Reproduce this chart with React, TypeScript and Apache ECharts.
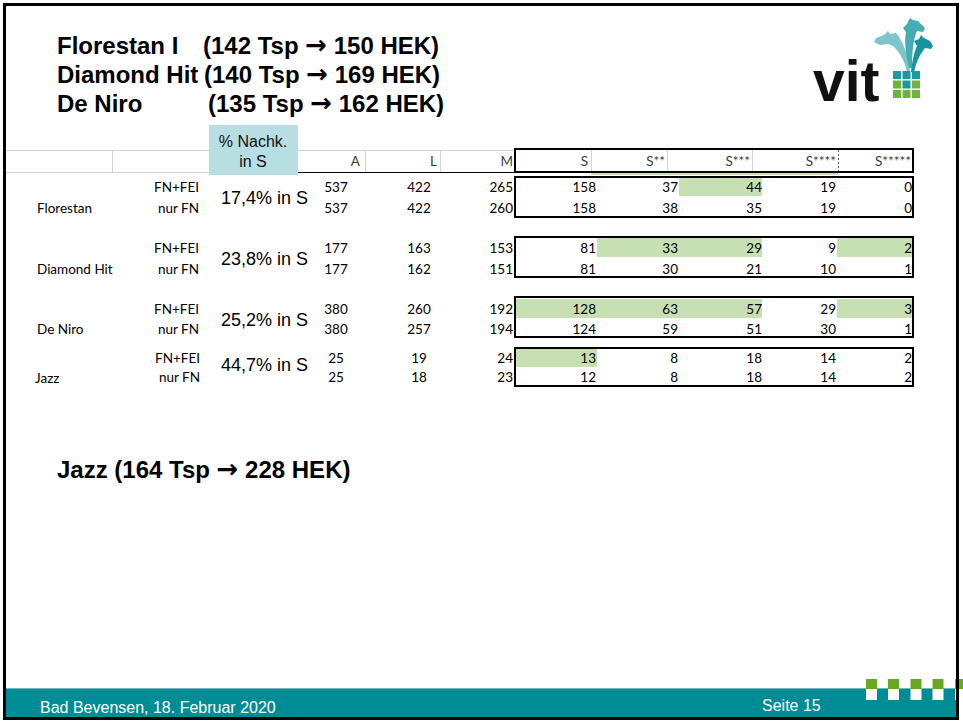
import React, { useEffect, useRef } from "react";
import * as echarts from "echarts";

// ---------- data ----------
const titleNames = ["Florestan I", "Diamond Hit", "De Niro"];
const titleCounts = ["(142 Tsp → 150 HEK)", "(140 Tsp → 169 HEK)", "(135 Tsp → 162 HEK)"];
const jazzTitle = "Jazz (164 Tsp → 228 HEK)";
const varieties = ["Florestan", "Diamond Hit", "De Niro", "Jazz"];
const methods = ["FN+FEI", "nur FN"];
const pctInS = ["17,4% in S", "23,8% in S", "25,2% in S", "44,7% in S"];
const pctHeader = ["% Nachk.", "in S"];
const columns = ["A", "L", "M", "S", "S**", "S***", "S****", "S*****"];
const valA = [537, 537, 177, 177, 380, 380, 25, 25];
const valL = [422, 422, 163, 162, 260, 257, 19, 18];
const valM = [265, 260, 153, 151, 192, 194, 24, 23];
const valS = [158, 158, 81, 81, 128, 124, 13, 12];
const valS2 = [37, 38, 33, 30, 63, 59, 8, 8];
const valS3 = [44, 35, 29, 21, 57, 51, 18, 18];
const valS4 = [19, 19, 9, 10, 29, 30, 14, 14];
const valS5 = [0, 0, 2, 1, 3, 1, 2, 2];
// highlighted cells: [row, column]
const highlights: number[][] = [[0, 5], [2, 4], [2, 5], [2, 7], [4, 3], [4, 4], [4, 5], [4, 7], [6, 3]];
const footerLeft = "Bad Bevensen, 18. Februar 2020";
const footerRight = "Seite 15";
const logoText = "vit";

const colValues = [valA, valL, valM, valS, valS2, valS3, valS4, valS5];

// ---------- layout ----------
const W = 963;
const H = 722;
const rowY = [187, 208, 248, 269, 309, 329, 358, 377];
const groupBox = [[177, 217], [237, 277], [297, 337], [348, 386]];
const pctY = [198, 259, 320, 365];
const nameY = [208, 269, 329, 378];
const nameX = [37, 37, 37, 35];
const methodX = [199, 199, 199, 199, 199, 199, 200, 200];
const colAnchor = [336, 419, 513, 596, 678, 762, 836, 912];
const colAlign = ["center", "center", "right", "right", "right", "right", "right", "right"];
const headerRight = [360, 437, 513, 588, 665, 750, 836, 911];
const sEdges = [515, 597, 679, 762, 837, 913];

const TABLE_FONT = '13.5px Lato, "Noto Sans", sans-serif';
const ARIAL = '"Liberation Sans", Arial, sans-serif';
const TITLE_FONT = `bold 24px ${ARIAL}`;
const ARROW_FONT = 'bold 26px "DejaVu Sans", sans-serif';
const TEAL = "#008c95";
const GREEN_CELL = "#c6e0b4";
const GRID = "#d4d4d4";

try {
  echarts.graphic.registerShape(
    "horseA",
    echarts.graphic.extendPath(
      "M907,72 C905,62 900,52 893,46 L888,44 L880,45 L874,42 L876,38 L884,35 L888,31 L890,34 L896,33 C902,40 908,52 910,72 Z",
      {}
    ) as any
  );
  echarts.graphic.registerShape(
    "horseB",
    echarts.graphic.extendPath(
      "M909,68 C906,55 904,42 906,32 L903,28 L907,24 L910,18 L913,20 L918,21 L925,28 L923,32 L917,31 C913,40 912,54 912,68 Z",
      {}
    ) as any
  );
  echarts.graphic.registerShape(
    "horseC",
    echarts.graphic.extendPath(
      "M911,72 C912,62 914,52 917,46 L914,41 L919,39 L921,35 L924,38 L930,41 L933,46 L931,49 L925,48 C920,54 916,63 914,72 Z",
      {}
    ) as any
  );
} catch (e) {
  // already registered
}

function txt(x: number, y: number, text: string, font: string, align: string, fill = "#000", z = 4) {
  return {
    type: "text",
    z2: z,
    style: {
      x,
      y,
      text,
      font,
      fill,
      align,
      textAlign: align,
      verticalAlign: "middle",
      textVerticalAlign: "middle",
    },
  };
}

// title text with a bolder arrow glyph
function arrowTxt(x: number, y: number, text: string) {
  const parts = text.split("→");
  const t = parts.length === 2 ? `${parts[0]}{arr|→}${parts[1]}` : text;
  return {
    type: "text",
    z2: 4,
    style: {
      x,
      y,
      text: t,
      font: TITLE_FONT,
      fill: "#000",
      align: "left",
      textAlign: "left",
      verticalAlign: "middle",
      textVerticalAlign: "middle",
      rich: { arr: { font: ARROW_FONT, fill: "#000", verticalAlign: "middle" } },
    },
  };
}

export default function App() {
  const ref = useRef<HTMLDivElement>(null);

  useEffect(() => {
    document.body.style.margin = "0";
    if (!ref.current) return;
    const chart = echarts.init(ref.current, undefined, { renderer: "svg" });

    const headerSeries = {
      type: "custom",
      z: 2,
      data: [[0, 0]],
      renderItem: (_p: any, api: any) => {
        const P = (x: number, y: number) => api.coord([x, y]);
        const children: any[] = [];
        const hline = (x1: number, x2: number, y: number, stroke: string, lw = 1) => {
          const a = P(x1, y);
          const b = P(x2, y);
          children.push({ type: "line", shape: { x1: a[0], y1: a[1], x2: b[0], y2: b[1] }, style: { stroke, lineWidth: lw } });
        };
        const vline = (x: number, y1: number, y2: number, stroke: string, dash?: number[]) => {
          const a = P(x, y1);
          const b = P(x, y2);
          children.push({ type: "line", shape: { x1: a[0], y1: a[1], x2: b[0], y2: b[1] }, style: { stroke, lineWidth: 1, lineDash: dash } });
        };
        hline(5, 515, 150.5, GRID);
        hline(5, 298, 172.5, GRID);
        hline(298, 515, 172.5, "#000");
        [112.5, 365.5, 440.5].forEach((x) => vline(x, 150, 172, GRID));
        // teal header cell
        const t0 = P(209, 125);
        const t1 = P(298, 175);
        children.push({ type: "rect", shape: { x: t0[0], y: t0[1], width: t1[0] - t0[0], height: t1[1] - t0[1] }, style: { fill: "#b7dee2" } });
        pctHeader.forEach((s, i) => {
          const p = P(253, i === 0 ? 141 : 161);
          children.push(txt(p[0], p[1], s, `16px ${ARIAL}`, "center", "#111"));
        });
        // green strip under header box
        const g0 = P(591, 172);
        const g1 = P(838, 175);
        children.push({ type: "rect", shape: { x: g0[0], y: g0[1], width: g1[0] - g0[0], height: g1[1] - g0[1] }, style: { fill: GREEN_CELL } });
        [591.5, 667.5, 752.5].forEach((x) => vline(x, 150, 171, GRID));
        vline(838.5, 150, 172, "#555", [2, 2]);
        // header box
        const b0 = P(515, 149);
        const b1 = P(913, 172);
        children.push({ type: "rect", shape: { x: b0[0], y: b0[1], width: b1[0] - b0[0], height: b1[1] - b0[1] }, style: { fill: "none", stroke: "#000", lineWidth: 2 } });
        columns.forEach((c, i) => {
          const p = P(headerRight[i], 161);
          children.push(txt(p[0], p[1], c, TABLE_FONT, "right", "#3c3c3c"));
        });
        return { type: "group", children };
      },
    };

    const highlightSeries = {
      type: "custom",
      z: 1,
      data: highlights.map((h) => [h[0], h[1]]),
      renderItem: (params: any, api: any) => {
        const [r, c] = highlights[params.dataIndex];
        const si = c - 3;
        const a = api.coord([sEdges[si], rowY[r] - 10]);
        const b = api.coord([sEdges[si + 1], rowY[r] + 9]);
        return { type: "rect", shape: { x: a[0], y: a[1], width: b[0] - a[0], height: b[1] - a[1] }, style: { fill: GREEN_CELL } };
      },
    };

    const boxSeries = {
      type: "custom",
      z: 3,
      data: groupBox.map((g, i) => [i, g[0]]),
      renderItem: (params: any, api: any) => {
        const g = groupBox[params.dataIndex];
        const a = api.coord([515, g[0]]);
        const b = api.coord([913, g[1]]);
        return { type: "rect", shape: { x: a[0], y: a[1], width: b[0] - a[0], height: b[1] - a[1] }, style: { fill: "none", stroke: "#000", lineWidth: 2 } };
      },
    };

    const rowSeries = {
      type: "custom",
      z: 4,
      data: rowY.map((_y, i) => [i, i]),
      renderItem: (params: any, api: any) => {
        const r = params.dataIndex;
        const children: any[] = [];
        const m = api.coord([methodX[r], rowY[r]]);
        children.push(txt(m[0], m[1], methods[r % 2], TABLE_FONT, "right"));
        colValues.forEach((vals, c) => {
          const p = api.coord([colAnchor[c], rowY[r]]);
          children.push(txt(p[0], p[1], String(vals[r]), TABLE_FONT, colAlign[c]));
        });
        return { type: "group", children };
      },
    };

    const varietySeries = {
      type: "custom",
      z: 4,
      data: varieties.map((_v, i) => [i, i]),
      renderItem: (params: any, api: any) => {
        const g = params.dataIndex;
        const n = api.coord([nameX[g], nameY[g]]);
        const p = api.coord([221, pctY[g]]);
        return {
          type: "group",
          children: [
            txt(n[0], n[1], varieties[g], TABLE_FONT, "left"),
            txt(p[0], p[1], pctInS[g], `18px ${ARIAL}`, "left"),
          ],
        };
      },
    };

    const titleY = [45, 74, 103];
    const countX = [203, 204, 208];
    const graphics: any[] = [];
    titleNames.forEach((n, i) => {
      graphics.push(txt(57, titleY[i], n, TITLE_FONT, "left"));
      graphics.push(arrowTxt(countX[i], titleY[i], titleCounts[i]));
    });
    graphics.push(arrowTxt(57, 469, jazzTitle));

    // logo
    graphics.push({ type: "horseA", x: 0, y: 0, style: { fill: "#7cc6ca" } });
    graphics.push({ type: "horseB", x: 0, y: 0, style: { fill: "#45adb3" } });
    graphics.push({ type: "horseC", x: 0, y: 0, style: { fill: "#16959d" } });
    graphics.push(txt(813, 81, logoText, `bold 57px ${ARIAL}`, "left", "#111"));
    const logoCells = [
      ["#1a9aa3", "#1a9aa3", "#1a9aa3"],
      ["#6cb33f", "#1a9aa3", "#6cb33f"],
      ["#6cb33f", "#6cb33f", "#6cb33f"],
    ];
    logoCells.forEach((row, ri) =>
      row.forEach((col, ci) => {
        graphics.push({ type: "rect", shape: { x: 893 + ci * 9.5, y: 71 + ri * 9.5, width: 8, height: 8 }, style: { fill: col } });
      })
    );

    // footer
    graphics.push({ type: "rect", shape: { x: 5, y: 689, width: 951, height: 29 }, style: { fill: TEAL } });
    graphics.push({ type: "line", shape: { x1: 5, y1: 688.5, x2: 956, y2: 688.5 }, style: { stroke: "#6fbcc2", lineWidth: 1 } });
    [866, 888, 910.5, 932.5, 955].forEach((x) => {
      graphics.push({ type: "rect", shape: { x, y: 679, width: 11, height: 10 }, style: { fill: "#66a81e" } });
      graphics.push({ type: "rect", shape: { x, y: 689, width: 11, height: 11 }, style: { fill: "#ffffff" } });
    });
    graphics.push(txt(40, 707, footerLeft, `16px ${ARIAL}`, "left", "#ffffff"));
    graphics.push(txt(762, 705, footerRight, `16px ${ARIAL}`, "left", "#ffffff"));
    // slide frame
    graphics.push({ type: "rect", z: 10, shape: { x: 4.5, y: 4.5, width: 953, height: 714 }, style: { fill: "none", stroke: "#000", lineWidth: 3 } });

    chart.setOption({
      animation: false,
      backgroundColor: "#ffffff",
      grid: { left: 0, right: 0, top: 0, bottom: 0 },
      xAxis: { type: "value", min: 0, max: W, show: false },
      yAxis: { type: "value", min: 0, max: H, inverse: true, show: false },
      tooltip: { show: false },
      graphic: { elements: graphics },
      series: [highlightSeries, headerSeries, boxSeries, rowSeries, varietySeries],
    });

    return () => chart.dispose();
  }, []);

  return <div ref={ref} style={{ width: W, height: H }} />;
}
